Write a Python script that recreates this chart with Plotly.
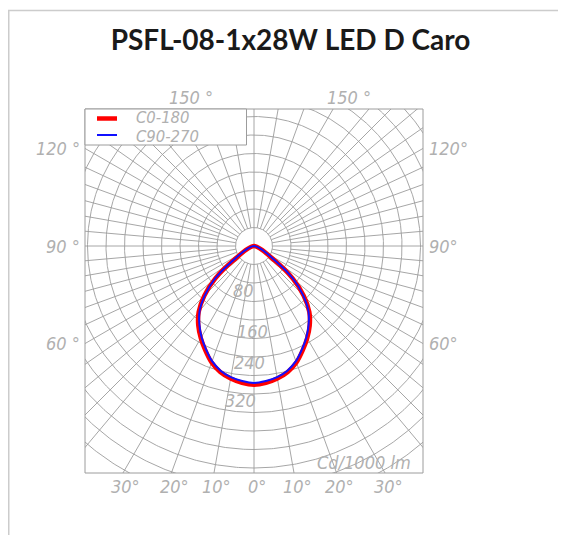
import numpy as np
import plotly.graph_objects as go

# ---------------- data ----------------
TITLE = "PSFL-08-1x28W LED D Caro"
UNIT_LABEL = "Cd/1000 lm"
SERIES_NAMES = ["C0-180", "C90-270"]

gamma_deg = [0, 5, 10, 15, 20, 25, 30, 35, 40, 45, 50, 55, 60, 65, 70, 75, 80, 85, 90]
c0_180 = [300, 297, 291, 282, 268, 249, 230, 210, 186, 152, 109, 54, 0, 0, 0, 0, 0, 0, 0]
c90_270 = [296, 293, 288, 279, 265, 246, 227, 206, 183, 150, 111, 60, 0, 0, 0, 0, 0, 0, 0]

ring_step = 40
ring_count = 14
ring_label_values = [80, 160, 240, 320]
side_angle_labels = [60, 90, 120]
top_angle_labels = [150]
bottom_angle_labels = [-30, -20, -10, 0, 10, 20, 30]

# ---------------- geometry / style ----------------
OFF = 8  # page body margin
W, H = 558, 527
M_L, M_R, M_T, M_B = 77, 143, 101, 62
PX_PER_CD = 0.4625
plot_w = W - M_L - M_R
plot_h = H - M_T - M_B
CX_PX, CY_PX = 169, 137
x_range = [-CX_PX / PX_PER_CD, (plot_w - CX_PX) / PX_PER_CD]
y_range = [-(plot_h - CY_PX) / PX_PER_CD, CY_PX / PX_PER_CD]

GRID_COLOR = "#9c9c9c"
LABEL_COLOR = "#b0b0b0"
LABEL_FONT = dict(family="Liberation Sans Narrow, 'DejaVu Sans Condensed', sans-serif",
                  size=18, color=LABEL_COLOR, style="italic")
LEGEND_FONT = dict(LABEL_FONT, size=16.5)
ring_label_shift = [(-11, -7), (-2, -11), (-5, -5), (-14, -6)]


def polar_xy(r, g):
    t = np.radians(g)
    return r * np.sin(t), -r * np.cos(t)


def curve(vals):
    g = np.array(gamma_deg, float)
    v = np.array(vals, float)
    gs = np.concatenate([g[::-1], -g[1:]])
    vs = np.concatenate([v[::-1], v[1:]])
    x, y = polar_xy(vs, gs)
    keep = [0]
    for i in range(1, len(x)):
        if abs(x[i] - x[keep[-1]]) > 1e-9 or abs(y[i] - y[keep[-1]]) > 1e-9:
            keep.append(i)
    return x[keep], y[keep]


def px2paper_x(page_px):
    return (page_px - OFF - M_L) / plot_w


def py2paper_y(page_py):
    return (H - M_B - (page_py - OFF)) / plot_h


fig = go.Figure()

# rings
rx, ry = [], []
t = np.linspace(0, 360, 721)
for k in range(1, ring_count + 1):
    x, y = polar_xy(k * ring_step, t)
    rx += list(x) + [None]
    ry += list(y) + [None]
fig.add_trace(go.Scatter(x=rx, y=ry, mode="lines", line=dict(color=GRID_COLOR, width=0.9),
                         hoverinfo="skip", showlegend=False))

# radial lines
lx, ly = [], []
for a in range(0, 360, 5):
    g = a if a <= 180 else 360 - a
    if a % 10 == 0:
        r0 = 0 if a in (0, 180) else ring_step
    elif 45 <= g <= 135:
        r0 = 2 * ring_step
    else:
        continue
    x0, y0 = polar_xy(r0, a)
    x1, y1 = polar_xy(1500, a)
    lx += [x0, x1, None]
    ly += [y0, y1, None]
fig.add_trace(go.Scatter(x=lx, y=ly, mode="lines", line=dict(color=GRID_COLOR, width=0.9),
                         hoverinfo="skip", showlegend=False))

# photometric curves
x, y = curve(c0_180)
fig.add_trace(go.Scatter(x=x, y=y, mode="lines", name=SERIES_NAMES[0],
                         line=dict(color="#ff0000", width=4.5, shape="spline", smoothing=0.8),
                         showlegend=False))
x, y = curve(c90_270)
fig.add_trace(go.Scatter(x=x, y=y, mode="lines", name=SERIES_NAMES[1],
                         line=dict(color="#1010ff", width=2, shape="spline", smoothing=0.8),
                         showlegend=False))

ann = []
# side labels
X_EDGE = x_range[1]
for a in side_angle_labels:
    yh = -X_EDGE * np.cos(np.radians(a)) / np.sin(np.radians(a))
    ann.append(dict(x=x_range[0], y=yh, text=f"{a} °", xanchor="right", yanchor="middle",
                    xshift=-3, showarrow=False, font=LABEL_FONT))
    ann.append(dict(x=x_range[1], y=yh, text=f"{a}°", xanchor="left", yanchor="middle",
                    xshift=4, showarrow=False, font=LABEL_FONT))
# top labels
for a in top_angle_labels:
    xh = y_range[1] * np.tan(np.radians(180 - a))
    for sgn in (-1, 1):
        ann.append(dict(x=sgn * xh, y=y_range[1], text=f"{a} °", xanchor="left", yanchor="middle",
                        xshift=-8, yshift=12, showarrow=False, font=LABEL_FONT))
# bottom labels
for a in bottom_angle_labels:
    xh = -y_range[0] * np.tan(np.radians(a))
    ann.append(dict(x=xh, y=y_range[0], text=f"{abs(a)}°", xanchor="center", yanchor="middle",
                    xshift=3, yshift=-13, showarrow=False, font=LABEL_FONT))
# unit label
ann.append(dict(x=x_range[1], y=y_range[0], text=UNIT_LABEL, xanchor="right", yanchor="middle",
                xshift=-10, yshift=11, showarrow=False, font=LABEL_FONT))
# ring labels
for v, (dx, dy) in zip(ring_label_values, ring_label_shift):
    ann.append(dict(x=0, y=-v, text=str(v), xanchor="center", yanchor="middle",
                    xshift=dx, yshift=dy, showarrow=False, font=LABEL_FONT))

# frame, card and manual legend
shapes = []
shapes.append(dict(type="rect", xref="paper", yref="paper",
                   x0=px2paper_x(8.75), x1=px2paper_x(900), y0=py2paper_y(900), y1=py2paper_y(10.5),
                   line=dict(color="#cccccc", width=1.5), fillcolor="rgba(0,0,0,0)", layer="below"))
shapes.append(dict(type="rect", xref="paper", yref="paper", x0=0, x1=1, y0=0, y1=1,
                   line=dict(color="#9c9c9c", width=1), fillcolor="rgba(0,0,0,0)", layer="above"))
shapes.append(dict(type="rect", xref="paper", yref="paper",
                   x0=0, x1=px2paper_x(246.5), y0=py2paper_y(145), y1=1,
                   line=dict(color="#9c9c9c", width=1), fillcolor="white", layer="above"))
legend_rows = [(118.5, "#ff0000", 4.5, 117.5), (135, "#1010ff", 2, 136.5)]
for (ly_px, col, w, ty_px), name in zip(legend_rows, SERIES_NAMES):
    shapes.append(dict(type="line", xref="paper", yref="paper",
                       x0=px2paper_x(97), x1=px2paper_x(117), y0=py2paper_y(ly_px), y1=py2paper_y(ly_px),
                       line=dict(color=col, width=w), layer="above"))
    ann.append(dict(xref="paper", yref="paper", x=px2paper_x(134), y=py2paper_y(ty_px), text=name,
                    xanchor="left", yanchor="middle", showarrow=False, font=LEGEND_FONT))

fig.update_layout(
    width=W, height=H, autosize=False,
    margin=dict(l=M_L, r=M_R, t=M_T, b=M_B, pad=0),
    paper_bgcolor="white", plot_bgcolor="white",
    title=dict(text=TITLE, x=(290.5 - OFF) / W, xanchor="center", y=1 - (40 - OFF) / H, yanchor="middle",
               font=dict(family="Lato, 'Open Sans', sans-serif", size=28, color="#1a1a1a", weight=700)),
    xaxis=dict(range=x_range, visible=False, fixedrange=True),
    yaxis=dict(range=y_range, visible=False, fixedrange=True),
    annotations=ann, shapes=shapes,
)

fig.write_html("out.html")
